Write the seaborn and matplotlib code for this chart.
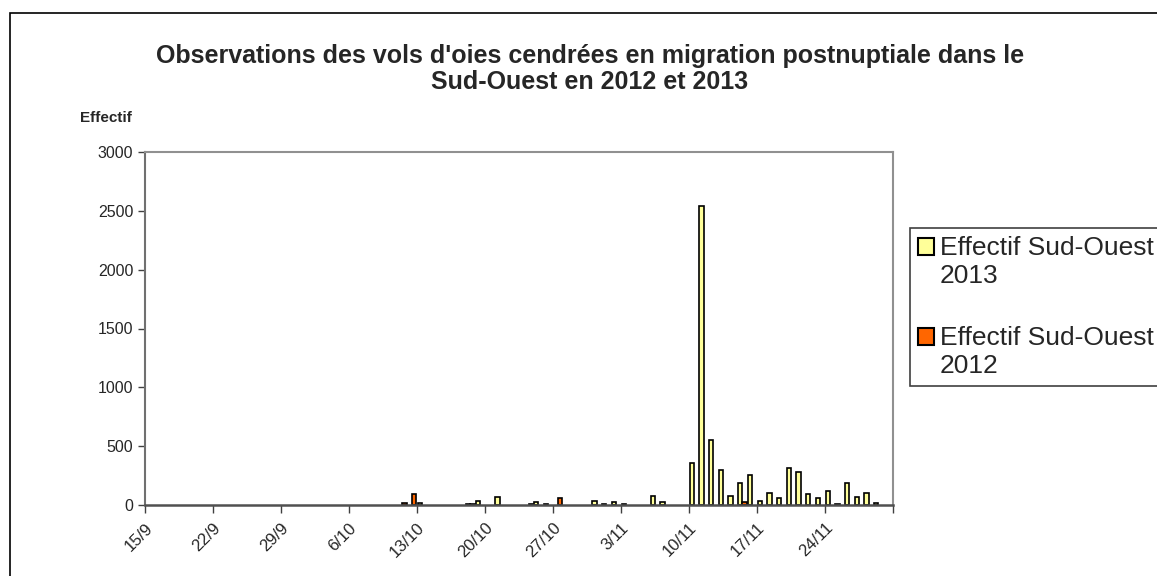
import numpy as np
import pandas as pd
import matplotlib
matplotlib.use("Agg")
import matplotlib.pyplot as plt
import seaborn as sns
from matplotlib.patches import Rectangle

# jours de la saison (15/9 -> 30/11), un repère tous les 7 jours
jours = [f"{d.day}/{d.month}" for d in pd.date_range("2013-09-15", "2013-11-30")]

jours_2013 = ["13/10", "18/10", "19/10", "21/10", "25/10", "26/10", "31/10", "1/11",
              "2/11", "3/11", "6/11", "7/11", "10/11", "11/11", "12/11", "13/11",
              "14/11", "15/11", "16/11", "17/11", "18/11", "19/11", "20/11", "21/11",
              "22/11", "23/11", "24/11", "25/11", "26/11", "27/11", "28/11", "29/11"]
effectif_2013 = [20, 8, 37, 65, 22, 10, 35, 10,
                 25, 10, 75, 25, 360, 2545, 550, 300,
                 80, 190, 255, 35, 100, 57, 317, 278,
                 93, 62, 122, 5, 184, 65, 105, 20]

jours_2012 = ["11/10", "12/10", "18/10", "24/10", "27/10", "15/11"]
effectif_2012 = [15, 95, 8, 10, 60, 28]

serie_2013 = "Effectif Sud-Ouest\n2013"
serie_2012 = "Effectif Sud-Ouest\n2012"
couleurs = {serie_2013: "#FFFF99", serie_2012: "#FF6600"}

df = pd.concat([
    pd.DataFrame({"jour": jours_2013, "effectif": effectif_2013, "serie": serie_2013}),
    pd.DataFrame({"jour": jours_2012, "effectif": effectif_2012, "serie": serie_2012}),
])

sns.set_style("white")
plt.rcParams["font.family"] = ["Liberation Sans", "DejaVu Sans"]

fig = plt.figure(figsize=(11.57, 5.76), dpi=100)
ax = fig.add_axes([145 / 1157, 1 - 505 / 576, 748 / 1157, 353 / 576])

sns.barplot(data=df, x="jour", y="effectif", hue="serie", order=jours,
            hue_order=[serie_2013, serie_2012], palette=couleurs, saturation=1,
            dodge=True, width=0.88, edgecolor="black", linewidth=1.2,
            errorbar=None, ax=ax)

ax.set_xlim(-0.5, len(jours) - 0.5)
ax.set_ylim(0, 3000)
ax.set_yticks(np.arange(0, 3001, 500))
ax.tick_params(axis="y", labelsize=11.5, length=5, width=1, color="#404040", direction="out", left=True)
pos = np.arange(0, len(jours) + 1, 7) - 0.5
etiquettes = [jours[int(p + 0.5)] if p + 0.5 < len(jours) else "" for p in pos]
ax.set_xticks(pos)
ax.set_xticklabels(etiquettes, rotation=45, ha="right", va="top", rotation_mode="anchor")
ax.tick_params(axis="x", labelsize=12, length=6, width=1, color="#404040", direction="out", bottom=True, pad=5)

for cote in ["top", "right"]:
    ax.spines[cote].set_color("#909090")
    ax.spines[cote].set_linewidth(1.5)
ax.spines["left"].set_color("#707070")
ax.spines["left"].set_linewidth(1.5)
ax.spines["bottom"].set_color("#505050")
ax.spines["bottom"].set_linewidth(1.8)

ax.set_xlabel("")
ax.set_ylabel("Effectif", rotation=0, fontsize=11, fontweight="bold", ha="center", va="center")
ax.yaxis.set_label_coords(-0.052, 1.095)

fig.suptitle("Observations des vols d'oies cendrées en migration postnuptiale dans le\nSud-Ouest en 2012 et 2013",
             x=590 / 1157, y=1 - 44 / 576, fontsize=18, fontweight="bold", linespacing=1.1, va="top")

leg = ax.legend(loc="upper left", bbox_to_anchor=(910 / 1157, 1 - 228 / 576), bbox_transform=fig.transFigure,
                fontsize=19, frameon=True, fancybox=False, edgecolor="#404040", framealpha=1,
                handlelength=0.62, handleheight=0.62, handletextpad=0.2, labelspacing=1.45,
                borderpad=0.3, borderaxespad=0)
leg.get_frame().set_linewidth(1.2)
for t in leg.get_texts():
    t.set_linespacing(1.2)
# carré de légende aligné sur la première ligne du libellé
for p in leg.get_patches():
    p.set_y(p.get_y() + 0.5 * 19 * 1.2)
    p.set_linewidth(1.5)

# cadre de la zone de graphique
fig.patches.append(Rectangle((10 / 1157, -0.2), 2, 1.2 - 13 / 576, transform=fig.transFigure,
                             fill=False, edgecolor="black", linewidth=1.2, clip_on=False))

fig.savefig("out.png", dpi=100)
